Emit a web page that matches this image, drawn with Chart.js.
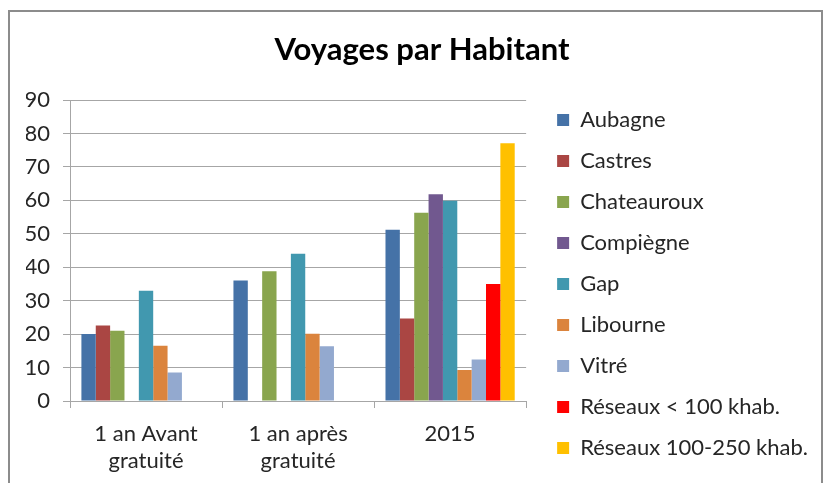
<!DOCTYPE html>
<html>
<head>
<meta charset="utf-8">
<script src="https://cdn.jsdelivr.net/npm/chart.js@4"></script>
<style>
  html, body { margin: 0; padding: 0; background: #fff; }
  #page { position: relative; width: 823px; height: 483px; overflow: hidden; }
  .edge { position: absolute; background: #8c8c8c; }
  #edgeTop { left: 8px; top: 10px; width: 815px; height: 2px; }
  #edgeLeft { left: 8px; top: 10px; width: 2px; height: 473px; }
  #edgeRight { left: 821px; top: 10px; width: 2px; height: 473px; }
  #chartVoyages { position: absolute; left: 10px; top: 12px; }
</style>
</head>
<body>
<div id="page">
  <div class="edge" id="edgeTop"></div>
  <div class="edge" id="edgeLeft"></div>
  <div class="edge" id="edgeRight"></div>
  <canvas id="chartVoyages" width="811" height="471"></canvas>
</div>
<script>
const categories = [['1 an Avant', 'gratuité'], ['1 an après', 'gratuité'], '2015'];

const aubagne = [20, 36, 51.2];
const castres = [22.6, null, 24.7];
const chateauroux = [21, 38.8, 56.3];
const compiegne = [null, null, 61.8];
const gap = [33, 44, 59.9];
const libourne = [16.5, 20.1, 9.3];
const vitre = [8.5, 16.4, 12.4];
const reseauxMoins100 = [null, null, 35];
const reseaux100a250 = [null, null, 77.1];

const yTicks = [0, 10, 20, 30, 40, 50, 60, 70, 80, 90];

const font = 'Lato, "Open Sans", sans-serif';
const gridColor = '#a6a6a6';
const textColor = '#262626';

document.addEventListener('DOMContentLoaded', function () {
  chartVoyages();
});

function chartVoyages() {
  const ctx = document.getElementById('chartVoyages').getContext('2d');

  const series = [
    ['Aubagne', aubagne, '#4572a7'],
    ['Castres', castres, '#aa4643'],
    ['Chateauroux', chateauroux, '#89a54e'],
    ['Compiègne', compiegne, '#71588f'],
    ['Gap', gap, '#4198af'],
    ['Libourne', libourne, '#db843d'],
    ['Vitré', vitre, '#93a9cf'],
    ['Réseaux < 100 khab.', reseauxMoins100, '#ff0000'],
    ['Réseaux 100-250 khab.', reseaux100a250, '#ffc000']
  ];

  new Chart(ctx, {
    type: 'bar',
    data: {
      labels: categories,
      datasets: series.map(s => ({
        label: s[0],
        data: s[1],
        backgroundColor: s[2],
        borderWidth: 0,
        categoryPercentage: 0.85,
        barPercentage: 1
      }))
    },
    options: {
      responsive: false,
      animation: false,
      devicePixelRatio: 1,
      layout: {
        padding: { left: 16, right: 3, top: 0, bottom: 5 }
      },
      plugins: {
        title: {
          display: true,
          text: 'Voyages par Habitant',
          color: '#000',
          font: { family: font, size: 31, weight: 'bold', lineHeight: 1.2 },
          padding: { top: 19.4, bottom: 31.4 }
        },
        legend: {
          position: 'right',
          align: 'end',
          maxWidth: 400,
          labels: {
            boxWidth: 12,
            boxHeight: 12,
            padding: 19,
            color: textColor,
            font: { family: font, size: 22 }
          }
        },
        tooltip: { enabled: false }
      },
      scales: {
        x: {
          grid: { offset: true, drawOnChartArea: false, tickLength: 7, color: gridColor },
          border: { color: gridColor },
          ticks: {
            color: textColor,
            padding: 13,
            maxRotation: 0,
            font: { family: font, size: 22, lineHeight: 1.2 }
          },
          afterFit: function (scale) { scale.height = 77; }
        },
        y: {
          min: 0,
          max: 90,
          afterBuildTicks: function (scale) { scale.ticks = yTicks.map(v => ({ value: v })); },
          afterFit: function (scale) { scale.width = 44; },
          grid: { tickLength: 7, color: gridColor },
          border: { color: gridColor },
          ticks: {
            color: textColor,
            padding: 13,
            font: { family: font, size: 22 }
          }
        },
        spacer: {
          type: 'linear',
          position: 'right',
          grid: { display: false },
          border: { display: false },
          ticks: { display: false },
          afterFit: function (scale) { scale.width = 12; }
        }
      }
    }
  });
}
</script>
</body>
</html>
